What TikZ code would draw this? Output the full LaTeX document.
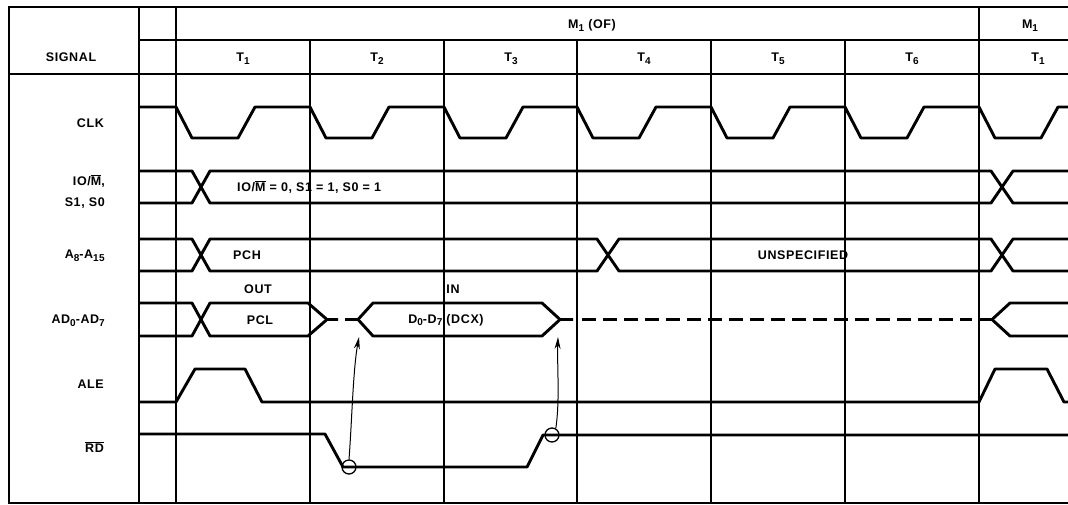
\documentclass[tikz,border=0pt]{standalone}
\usepackage{fontspec}
\setmainfont{Liberation Sans}[LetterSpace=5]
\usetikzlibrary{arrows.meta}
\newcommand\sbs[1]{\raisebox{-0.45ex}{\fontsize{10}{10}\selectfont #1}}
\newcommand\ovl[1]{$\overline{\hbox{#1}}$}
\begin{document}
\begin{tikzpicture}[x=1pt,y=-1pt,
  grid/.style={line width=1.1pt},
  sig/.style={line width=2.9pt, line join=round},
  lbl/.style={font=\fontsize{12.5}{14}\selectfont\bfseries, inner sep=0pt},
  rlbl/.style={lbl, anchor=east},
  ring/.style={circle, draw, line width=1.3pt, minimum size=14pt, inner sep=0pt},
  link/.style={line width=1pt, -{Stealth[length=12pt,width=6pt]}}]
\useasboundingbox (0,0) rectangle (1068,504);
% grid
\draw[grid] (1068,7) -- (9,7) -- (9,503) -- (1068,503);
\draw[grid] (139,7) -- (139,503);
\draw[grid] (176,7) -- (176,503);
\draw[grid] (139,40) -- (1068,40);
\draw[grid] (9,74) -- (1068,74);
\foreach \x in {310,444,577,711,845} \draw[grid] (\x,40) -- (\x,503);
\draw[grid] (979,7) -- (979,503);
% header
\node[lbl] (m1of) at (592,25) {M\sbs{1} (OF)};
\node[lbl] (m1b) at (1030,26) {M\sbs{1}};
\node[lbl] (sighdr) at (71,57) {SIGNAL};
\node[lbl] (t1) at (243,59) {T\sbs{1}};
\node[lbl] (t2) at (377,59) {T\sbs{2}};
\node[lbl] (t3) at (511,59) {T\sbs{3}};
\node[lbl] (t4) at (644,59) {T\sbs{4}};
\node[lbl] (t5) at (778,59) {T\sbs{5}};
\node[lbl] (t6) at (912,59) {T\sbs{6}};
\node[lbl] (t1b) at (1038,59) {T\sbs{1}};
% signal names
\node[rlbl] (nclk) at (104,123) {CLK};
\node[rlbl] (nio) at (105,181) {IO/\ovl{M},};
\node[rlbl] (ns) at (105,203) {S1, S0};
\node[rlbl] (na) at (105,256) {A\sbs{8}-A\sbs{15}};
\node[rlbl] (nad) at (105,321) {AD\sbs{0}-AD\sbs{7}};
\node[rlbl] (nale) at (104,384) {ALE};
\node[rlbl] (nrd) at (104,447) {\ovl{RD}};
% CLK
\draw[sig] (139,107) \foreach \b in {176,310,444,577,711,845} { -- (\b,107) -- (\b+16,138) -- (\b+62,138) -- (\b+79,107) }
  -- (979,107) -- (995,138) -- (1041,138) -- (1058,107) -- (1068,107);
% IO/M, S1, S0
\draw[sig] (139,171) -- (192,171) -- (210,203) -- (991,203) -- (1013,171) -- (1068,171);
\draw[sig] (139,203) -- (192,203) -- (210,171) -- (991,171) -- (1013,203) -- (1068,203);
\node[lbl, anchor=west] (iotxt) at (237,187) {IO/\ovl{M} = 0, S1 = 1, S0 = 1};
% A8-A15
\draw[sig] (139,239) -- (192,239) -- (210,271) -- (597,271) -- (619,239) -- (991,239) -- (1013,271) -- (1068,271);
\draw[sig] (139,271) -- (192,271) -- (210,239) -- (597,239) -- (619,271) -- (991,271) -- (1013,239) -- (1068,239);
\node[lbl] (pch) at (247,255) {PCH};
\node[lbl] (unsp) at (803,255) {UNSPECIFIED};
% AD0-AD7
\node[lbl] (out) at (258,289) {OUT};
\node[lbl] (in) at (453,289) {IN};
\draw[sig] (139,303) -- (192,303) -- (210,336) -- (308,336) -- (327,319.5) -- (338,319.5);
\draw[sig] (139,336) -- (192,336) -- (210,303) -- (308,303) -- (327,319.5);
\draw[sig] (345,319.5) -- (358,319.5) -- (373,303) -- (542,303) -- (560,319.5) -- (573,319.5);
\draw[sig] (358,319.5) -- (373,336) -- (542,336) -- (560,319.5);
\draw[sig, dash pattern=on 14pt off 7pt] (582,319.5) -- (972,319.5);
\draw[sig] (979,319.5) -- (992,319.5) -- (1010,303) -- (1068,303);
\draw[sig] (992,319.5) -- (1010,336) -- (1068,336);
\node[lbl] (pcl) at (260,320) {PCL};
\node[lbl] (dtxt) at (446,320) {D\sbs{0}-D\sbs{7} (DCX)};
% ALE
\draw[sig] (139,402) -- (176,402) -- (195,369) -- (245,369) -- (262,402) -- (979,402) -- (995,369) -- (1047,369) -- (1064,402) -- (1068,402);
% RD
\draw[sig] (139,434) -- (325,434) -- (343,467) -- (527,467) -- (543,435) -- (1068,435);
\node[ring] (c1) at (349,467) {};
\node[ring] (c2) at (552,435) {};
\coordinate (p1) at (359,337);
\coordinate (p2) at (558,337);
\draw[link] (c1.north) .. controls (352,420) and (353,370) .. (p1);
\draw[link] (c2.60) .. controls (560,400) and (557,365) .. (p2);
\end{tikzpicture}
\end{document}
